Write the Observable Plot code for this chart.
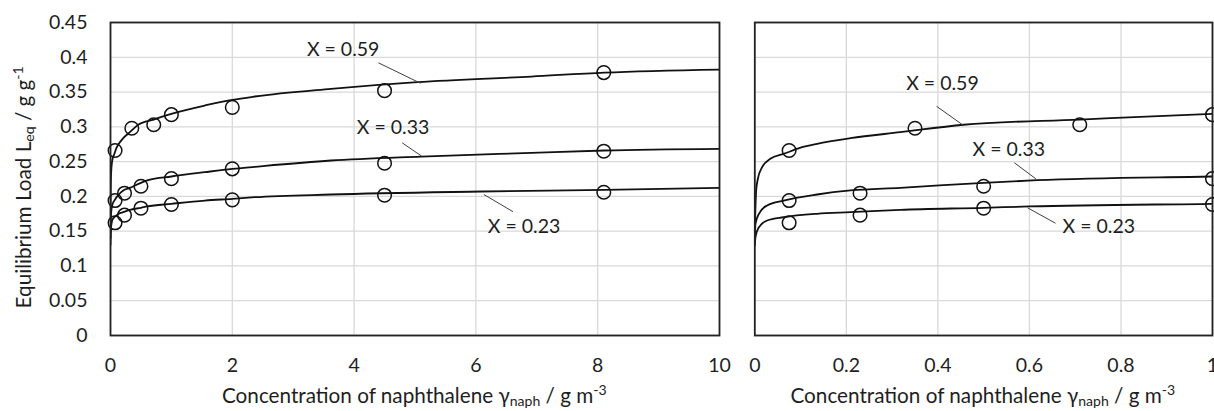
<!DOCTYPE html>
<html>
<head>
<meta charset="utf-8">
<script src="https://cdn.jsdelivr.net/npm/d3@7"></script>
<script src="https://cdn.jsdelivr.net/npm/@observablehq/plot@0.6"></script>
<style>
  html, body { margin: 0; padding: 0; background: #fff; }
  #wrap { position: relative; width: 1214px; height: 411px; overflow: hidden; font-family: Lato, "Open Sans", sans-serif; color: #1e1e1e; }
  .panel { position: absolute; top: 0; }
  .title { position: absolute; font-size: 20.7px; white-space: nowrap; line-height: 1; }
  .title sub, .title sup { font-size: 0.68em; line-height: 0; }
  .title sub { vertical-align: -0.22em; }
  .title sup { vertical-align: 0.55em; }
</style>
</head>
<body>
<div id="wrap">
  <div id="left" class="panel" style="left:0px"></div>
  <div id="right" class="panel" style="left:730px"></div>
  <div class="title" id="xt1">Concentration of naphthalene γ<sub>naph</sub> / g m<sup>-3</sup></div>
  <div class="title" id="xt2">Concentration of naphthalene γ<sub>naph</sub> / g m<sup>-3</sup></div>
  <div class="title" id="yt">Equilibrium Load L<sub>eq</sub> / g g<sup>-1</sup></div>
</div>
<script>
// ---- measured points ----
const conc059 = [0.075, 0.35, 0.71, 1.0, 2.0, 4.5, 8.1];
const load059 = [0.266, 0.298, 0.303, 0.3175, 0.328, 0.352, 0.378];
const conc033 = [0.075, 0.23, 0.5, 1.0, 2.0, 4.5, 8.1];
const load033 = [0.194, 0.2046, 0.2146, 0.2255, 0.2396, 0.2477, 0.265];
const conc023 = [0.075, 0.23, 0.5, 1.0, 2.0, 4.5, 8.1];
const load023 = [0.162, 0.173, 0.183, 0.1883, 0.195, 0.2017, 0.206];

// ---- fitted curves ----
const fit059x = [0, 0.003, 0.0066, 0.016, 0.034, 0.063, 0.1, 0.136, 0.209, 0.318, 0.456, 0.71, 1.0, 1.55, 2.0, 2.37, 3.62, 5.04, 6.91, 8.11, 10];
const fit059y = [0.15, 0.2085, 0.225, 0.242, 0.254, 0.261, 0.270, 0.2756, 0.2837, 0.2923, 0.303, 0.3105, 0.3187, 0.3307, 0.3388, 0.3436, 0.3546, 0.3642, 0.3723, 0.378, 0.3824];
const fit033x = [0, 0.0015, 0.009, 0.027, 0.063, 0.136, 0.209, 0.318, 0.5, 0.617, 1.0, 1.55, 2.0, 2.37, 3.62, 5.1, 6.91, 8.11, 10];
const fit033y = [0.14, 0.1606, 0.175, 0.187, 0.194, 0.2027, 0.2085, 0.2123, 0.2195, 0.2233, 0.2286, 0.2348, 0.2395, 0.2425, 0.2516, 0.2573, 0.2626, 0.266, 0.2684];
const fit023x = [0, 0.0015, 0.009, 0.027, 0.063, 0.136, 0.209, 0.318, 0.5, 0.6, 1.0, 1.55, 2.0, 2.37, 3.62, 6.09, 8.11, 10];
const fit023y = [0.13, 0.1414, 0.1557, 0.1653, 0.170, 0.175, 0.1773, 0.1807, 0.1836, 0.1855, 0.1893, 0.194, 0.1965, 0.1988, 0.2027, 0.207, 0.2095, 0.2123];

// ---- ticks ----
const yTicks = [0, 0.05, 0.1, 0.15, 0.2, 0.25, 0.3, 0.35, 0.4, 0.45];
const xTicksLeft = [0, 2, 4, 6, 8, 10];
const xTicksRight = [0, 0.2, 0.4, 0.6, 0.8, 1];

// ---- annotations ----
const labels = ["X = 0.59", "X = 0.33", "X = 0.23"];
const leftLabelX = [3.82, 4.64, 6.79];
const leftLabelY = [0.411, 0.298, 0.1557];
const leftLeadX1 = [4.40, 4.79, 6.13], leftLeadY1 = [0.392, 0.277, 0.2027];
const leftLeadX2 = [5.09, 5.11, 6.61], leftLeadY2 = [0.3627, 0.2578, 0.178];
const rightLabelX = [0.41, 0.555, 0.7515];
const rightLabelY = [0.362, 0.267, 0.1557];
const rightLeadX1 = [0.397, 0.567, 0.596], rightLeadY1 = [0.3296, 0.2483, 0.1836];
const rightLeadX2 = [0.456, 0.614, 0.657], rightLeadY2 = [0.302, 0.2253, 0.1614];

const points = [
  ...conc059.map((c, i) => ({s: "0.59", x: c, y: load059[i]})),
  ...conc033.map((c, i) => ({s: "0.33", x: c, y: load033[i]})),
  ...conc023.map((c, i) => ({s: "0.23", x: c, y: load023[i]}))
];
const curves = [
  ...fit059x.map((c, i) => ({s: "0.59", x: c, y: fit059y[i]})),
  ...fit033x.map((c, i) => ({s: "0.33", x: c, y: fit033y[i]})),
  ...fit023x.map((c, i) => ({s: "0.23", x: c, y: fit023y[i]}))
];
const fmt = d => String(+d.toFixed(2));
const FONT = "Lato, 'Open Sans', sans-serif";
const INK = "#1e1e1e";

function panel({width, marginLeft, marginRight, xDomain, xTicks, showY, pts, lx, ly, x1, y1, x2, y2}) {
  const ann = labels.map((t, i) => ({t, x: lx[i], y: ly[i]}));
  const leads = labels.map((t, i) => ({x1: x1[i], y1: y1[i], x2: x2[i], y2: y2[i]}));
  return Plot.plot({
    width, height: 411,
    marginLeft, marginRight, marginTop: 22, marginBottom: 76,
    style: {fontFamily: FONT, fontSize: "19.5px", color: INK, background: "transparent", overflow: "visible"},
    x: {domain: xDomain, label: null},
    y: {domain: [0, 0.45], label: null, axis: null},
    marks: [
      Plot.gridX(xTicks, {stroke: "#d9d9d9", strokeOpacity: 1, strokeWidth: 1.3}),
      Plot.gridY(yTicks, {stroke: "#d9d9d9", strokeOpacity: 1, strokeWidth: 1.3}),
      Plot.line(curves, {x: "x", y: "y", z: "s", stroke: "#111", strokeWidth: 1.8, curve: "monotone-x", clip: true}),
      Plot.dot(pts, {x: "x", y: "y", r: 6.8, stroke: "#111", strokeWidth: 1.5, fill: "none"}),
      Plot.link(leads, {x1: "x1", y1: "y1", x2: "x2", y2: "y2", stroke: "#404040", strokeWidth: 1}),
      Plot.text(ann, {x: "x", y: "y", text: "t", fill: INK, fontSize: 19.5}),
      Plot.frame({stroke: "#222", strokeWidth: 1.8}),
      Plot.axisX(xTicks, {tickSize: 0, tickPadding: 23, tickFormat: fmt, fill: INK, label: null}),
      ...(showY ? [Plot.axisY(yTicks, {tickSize: 0, tickPadding: 23, tickFormat: fmt, fill: INK, label: null})] : [])
    ]
  });
}

document.getElementById("left").append(panel({
  width: 730, marginLeft: 110, marginRight: 11, xDomain: [0, 10], xTicks: xTicksLeft, showY: true,
  pts: points, lx: leftLabelX, ly: leftLabelY, x1: leftLeadX1, y1: leftLeadY1, x2: leftLeadX2, y2: leftLeadY2
}));
document.getElementById("right").append(panel({
  width: 484, marginLeft: 24.3, marginRight: 2, xDomain: [0, 1], xTicks: xTicksRight, showY: false,
  pts: points.filter(d => d.x <= 1), lx: rightLabelX, ly: rightLabelY, x1: rightLeadX1, y1: rightLeadY1, x2: rightLeadX2, y2: rightLeadY2
}));

// position axis titles
function place(id, cx, cy, rotate) {
  const el = document.getElementById(id);
  const w = el.offsetWidth, h = el.offsetHeight;
  el.style.left = (cx - w / 2) + "px";
  el.style.top = (cy - h / 2) + "px";
  if (rotate) el.style.transform = "rotate(-90deg)";
}
place("xt1", 414.5, 395);
place("xt2", 983, 395);
place("yt", 23, 187, true);
</script>
</body>
</html>
